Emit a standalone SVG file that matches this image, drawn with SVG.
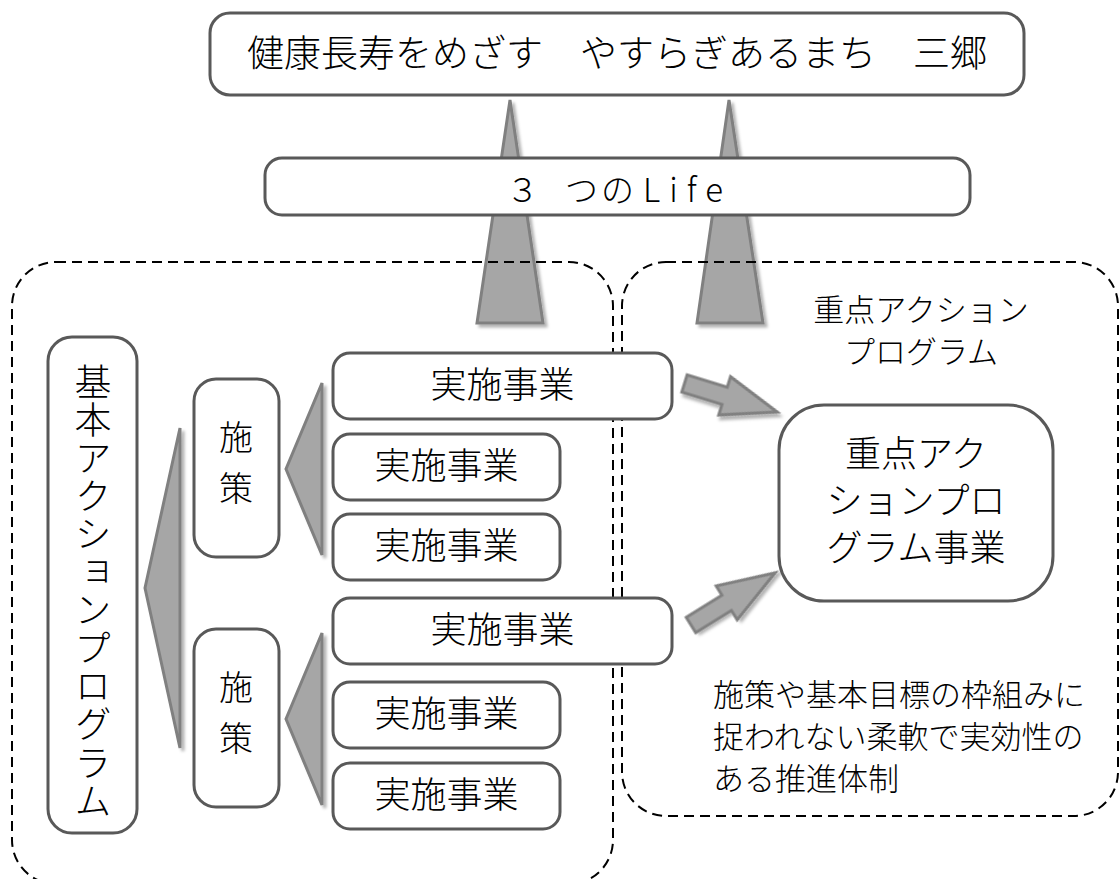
<svg xmlns="http://www.w3.org/2000/svg" width="1120" height="879" viewBox="0 0 1120 879">
<defs>
<filter id="sh" x="-30%" y="-30%" width="170%" height="170%">
<feDropShadow dx="3" dy="3" stdDeviation="1.5" flood-color="#000" flood-opacity="0.3"/>
</filter>
<style>
.box{fill:#fff;stroke:#595959;stroke-width:3}
.area{fill:none;stroke:#000;stroke-width:2;stroke-dasharray:10 6}
.tri{fill:#a6a6a6;stroke:#808080;stroke-width:3;stroke-linejoin:miter;filter:url(#sh)}
.t{font-family:"Noto Sans CJK JP","Noto Sans",sans-serif;fill:#000;font-weight:300}
.c{text-anchor:middle}
.v{writing-mode:vertical-rl;text-orientation:upright}
</style>
</defs>
<rect width="1120" height="879" fill="#fff"/>

<g id="connectors">
<polygon class="tri" points="510,100 543,323 477,323"/>
<polygon class="tri" points="729,100 763,323 697,323"/>
<polygon class="tri" points="180,428 180,748 145,588"/>
<polygon class="tri" points="322,383 322,555 286,469"/>
<polygon class="tri" points="322,633 322,805 286,719"/>
<polygon class="tri" transform="translate(684.5,383.5) rotate(17.1)" points="0,-9 42,-9 42,-20 97,0 42,20 42,9 0,9"/>
<polygon class="tri" transform="translate(691,625) rotate(-31.8)" points="0,-9 42,-9 42,-20 99,0 42,20 42,9 0,9"/>
</g>

<g id="area-basic">
<rect class="area" x="12" y="262" width="601" height="622" rx="44"/>
</g>
<g id="area-priority">
<rect class="area" x="622" y="262" width="496" height="554" rx="44"/>
<text class="t c" x="921" y="321" font-size="31">重点アクション</text>
<text class="t c" x="921" y="363" font-size="31">プログラム</text>
<text class="t" x="713" y="706" font-size="31">施策や基本目標の枠組みに</text>
<text class="t" x="713" y="748" font-size="31">捉われない柔軟で実効性の</text>
<text class="t" x="713" y="790" font-size="31">ある推進体制</text>
</g>

<g id="goal">
<rect class="box" x="210" y="13" width="814" height="82" rx="20"/>
<text class="t c" x="617" y="67" font-size="37">健康長寿をめざす　やすらぎあるまち　三郷</text>
</g>

<g id="life">
<rect class="box" x="265" y="158" width="705" height="57" rx="17"/>
<text class="t" y="202" font-size="33"><tspan x="506">３</tspan><tspan x="565">つ</tspan><tspan x="601">の</tspan><tspan x="643" letter-spacing="9">Life</tspan></text>
</g>

<g id="basic-program">
<rect class="box" x="48" y="337" width="89" height="496" rx="24"/>
<text class="t v" x="93" y="363" font-size="37" letter-spacing="1.1">基本アクションプログラム</text>
</g>

<g id="policy-1">
<rect class="box" x="194" y="379" width="85" height="178" rx="22"/>
<text class="t v" x="236" y="420" font-size="34" letter-spacing="17">施策</text>
</g>
<g id="policy-2">
<rect class="box" x="194" y="629" width="85" height="178" rx="22"/>
<text class="t v" x="236" y="670" font-size="34" letter-spacing="17">施策</text>
</g>

<g id="project-1">
<rect class="box" x="333" y="353" width="339" height="66" rx="17"/>
<text class="t c" x="502.5" y="398" font-size="36">実施事業</text>
</g>
<g id="project-2">
<rect class="box" x="333" y="434" width="227" height="66" rx="17"/>
<text class="t c" x="446.5" y="479" font-size="36">実施事業</text>
</g>
<g id="project-3">
<rect class="box" x="333" y="514" width="227" height="66" rx="17"/>
<text class="t c" x="446.5" y="559" font-size="36">実施事業</text>
</g>
<g id="project-4">
<rect class="box" x="333" y="598" width="339" height="66" rx="17"/>
<text class="t c" x="502.5" y="643" font-size="36">実施事業</text>
</g>
<g id="project-5">
<rect class="box" x="333" y="682" width="227" height="66" rx="17"/>
<text class="t c" x="446.5" y="727" font-size="36">実施事業</text>
</g>
<g id="project-6">
<rect class="box" x="333" y="763" width="227" height="66" rx="17"/>
<text class="t c" x="446.5" y="808" font-size="36">実施事業</text>
</g>

<g id="priority-project">
<rect class="box" x="779" y="405" width="274" height="196" rx="45"/>
<text class="t c" font-size="36"><tspan x="916" y="467">重点アク</tspan><tspan x="916" y="514">ションプロ</tspan><tspan x="916" y="561">グラム事業</tspan></text>
</g>
</svg>
